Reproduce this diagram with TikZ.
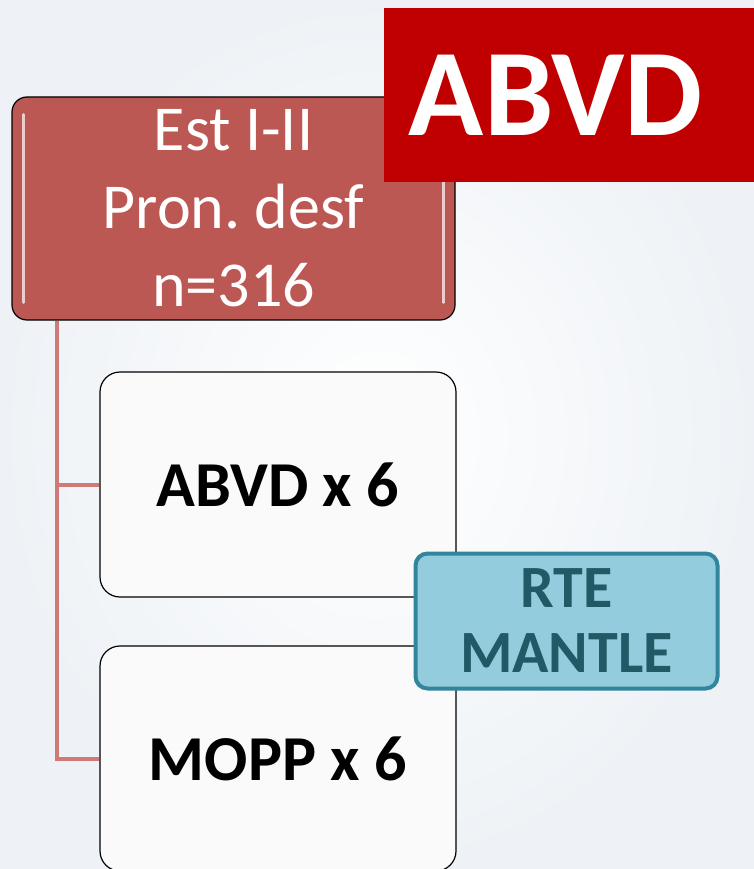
\documentclass[tikz,border=0pt]{standalone}
\usepackage{fontspec}
\setmainfont{Carlito}
\definecolor{headRed}{RGB}{188,88,83}
\definecolor{tagRed}{RGB}{192,0,0}
\definecolor{linkRed}{RGB}{208,122,120}
\definecolor{rteFill}{RGB}{147,205,221}
\definecolor{rteLine}{RGB}{49,133,156}
\definecolor{rteText}{RGB}{33,89,103}
\definecolor{bgGrey}{RGB}{238,242,246}

\begin{document}
\frenchspacing
\begin{tikzpicture}[
    x=1pt, y=-1pt,
    head/.style={rectangle, draw=black, line width=1.2pt, fill=headRed, rounded corners=15pt, minimum width=443pt, minimum height=223pt, inner sep=0pt, align=center, text=white, font=\fontsize{64}{78}\selectfont},
    tag/.style={rectangle, fill=tagRed, minimum width=370pt, minimum height=174pt, inner sep=0pt, text=white, font=\fontsize{124}{130}\selectfont\bfseries},
    arm/.style={rectangle, draw=black, line width=1.2pt, fill=white!98!black, rounded corners=20pt, minimum width=356pt, minimum height=225pt, inner sep=0pt, font=\fontsize{64}{70}\selectfont\bfseries},
    rte/.style={rectangle, draw=rteLine, line width=4pt, fill=rteFill, rounded corners=12pt, minimum width=302pt, minimum height=135pt, inner sep=0pt, align=center, text=rteText, font=\fontsize{60}{65}\selectfont\bfseries},
    link/.style={linkRed, line width=4pt}
]
\useasboundingbox (0,0) rectangle (754,869);
\clip (0,0) rectangle (754,869);
\shade[inner color=white, outer color=bgGrey] (0,0) rectangle (754,869);

\node[head] (stage) at (233.5,208.5) {Est I-II\\Pron. desf\\n=316};
% glossy edges of the header box
\draw[white, opacity=0.7, line width=2.5pt, line cap=round] ([xshift=12pt, yshift=-18pt]stage.north west) -- ([xshift=12pt, yshift=18pt]stage.south west);
\draw[white, opacity=0.7, line width=2.5pt, line cap=round] ([xshift=-12pt, yshift=-18pt]stage.north east) -- ([xshift=-12pt, yshift=18pt]stage.south east);
\node[tag] (title) at (569,95) {ABVD\hspace*{26pt}};

\node[arm] (abvd) at (278,484.5) {ABVD x 6};
\node[arm] (mopp) at (278,758.5) {MOPP x 6};

\coordinate (trunk) at ([xshift=46pt]stage.south west);
\draw[link] (trunk) |- (abvd.west);
\draw[link] (trunk) |- (mopp.west);

\node[rte] (rt) at (566.5,621) {RTE\\MANTLE};
\end{tikzpicture}
\end{document}
